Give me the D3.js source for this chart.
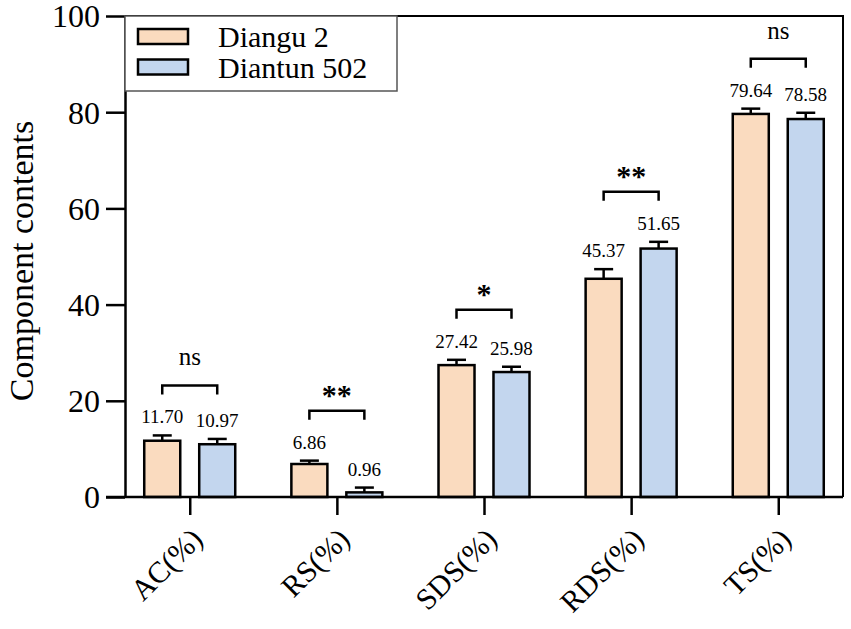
<!DOCTYPE html>
<html>
<head>
<meta charset="utf-8">
<script src="https://cdn.jsdelivr.net/npm/d3@7"></script>
<style>
  body { margin: 0; background: #fff; }
  svg text { font-family: "Liberation Serif", "DejaVu Serif", serif; fill: #000; }
</style>
</head>
<body>
<svg id="chart" width="851" height="629"></svg>
<script>
// categories and series
var categories = ["AC(%)", "RS(%)", "SDS(%)", "RDS(%)", "TS(%)"];
var seriesNames = ["Diangu 2", "Diantun 502"];
var diangu = [11.70, 6.86, 27.42, 45.37, 79.64];
var diantun = [10.97, 0.96, 25.98, 51.65, 78.58];
var dianguErr = [1.1, 0.7, 1.1, 2.0, 1.1];
var diantunErr = [1.1, 1.0, 1.1, 1.4, 1.3];
var significance = ["ns", "**", "*", "**", "ns"];
var yTicks = [0, 20, 40, 60, 80, 100];

var colors = ["#fadbbf", "#c3d6ee"];
var serif = "'Liberation Serif', 'DejaVu Serif', serif";

var svg = d3.select("#chart");
var plotLeft = 125, plotRight = 843, plotTop = 16, plotBottom = 497;

var x = d3.scalePoint().domain(categories).range([plotLeft, plotRight]).padding(0.44);
var xSub = d3.scaleBand().domain(seriesNames).range([-45.5, 45.5]).paddingInner(0.345);
var y = d3.scaleLinear().domain([0, 100]).range([plotBottom, plotTop]);

var rows = categories.map(function (c, i) {
    return {
        cat: c,
        sig: significance[i],
        vals: [
            { s: seriesNames[0], v: diangu[i], e: dianguErr[i], c: colors[0] },
            { s: seriesNames[1], v: diantun[i], e: diantunErr[i], c: colors[1] }
        ]
    };
});

// frame (top + right)
svg.append("path")
    .attr("d", "M" + plotLeft + "," + plotTop + "H" + plotRight + "V" + plotBottom)
    .attr("fill", "none").attr("stroke", "#000").attr("stroke-width", 2);

// bars
var groups = svg.selectAll(".grp").data(rows).enter().append("g")
    .attr("transform", function (d) { return "translate(" + x(d.cat) + ",0)"; });

var bw = xSub.bandwidth();
groups.selectAll("rect").data(function (d) { return d.vals; }).enter().append("rect")
    .attr("x", function (d) { return xSub(d.s); })
    .attr("y", function (d) { return y(d.v); })
    .attr("width", bw)
    .attr("height", function (d) { return y(0) - y(d.v); })
    .attr("fill", function (d) { return d.c; })
    .attr("stroke", "#000").attr("stroke-width", 2.5);

// error bars (upper only)
var eb = groups.selectAll(".eb").data(function (d) { return d.vals; }).enter().append("g");
eb.append("line")
    .attr("x1", function (d) { return xSub(d.s) + bw / 2; })
    .attr("x2", function (d) { return xSub(d.s) + bw / 2; })
    .attr("y1", function (d) { return y(d.v); })
    .attr("y2", function (d) { return y(d.v + d.e); })
    .attr("stroke", "#000").attr("stroke-width", 2.5);
eb.append("line")
    .attr("x1", function (d) { return xSub(d.s) + bw / 2 - 9.5; })
    .attr("x2", function (d) { return xSub(d.s) + bw / 2 + 9.5; })
    .attr("y1", function (d) { return y(d.v + d.e); })
    .attr("y2", function (d) { return y(d.v + d.e); })
    .attr("stroke", "#000").attr("stroke-width", 2.5);

// value labels
groups.selectAll(".val").data(function (d) { return d.vals; }).enter().append("text")
    .attr("x", function (d) { return xSub(d.s) + bw / 2; })
    .attr("y", function (d) { return y(d.v + d.e) - 12; })
    .attr("text-anchor", "middle")
    .attr("font-family", serif)
    .style("font-size", "19px")
    .text(function (d) { return d.v.toFixed(2); });

// significance brackets
groups.each(function (d) {
    var g = d3.select(this);
    var capTop = d3.min(d.vals, function (v) { return y(v.v + v.e); });
    var by = capTop - 50;
    var x1 = xSub(d.vals[0].s) + bw / 2, x2 = xSub(d.vals[1].s) + bw / 2;
    g.append("path")
        .attr("d", "M" + x1 + "," + (by + 9) + "V" + by + "H" + x2 + "V" + (by + 9))
        .attr("fill", "none").attr("stroke", "#000").attr("stroke-width", 2.5);
    var isNs = d.sig === "ns";
    g.append("text")
        .attr("x", (x1 + x2) / 2)
        .attr("y", isNs ? by - 20 : by - 6)
        .attr("text-anchor", "middle")
        .attr("font-family", serif)
        .style("font-size", isNs ? "25px" : "30px")
        .style("font-weight", isNs ? "normal" : "bold")
        .text(d.sig);
});

// y axis
var yAxis = svg.append("g")
    .attr("transform", "translate(" + plotLeft + ",0)")
    .attr("font-family", serif)
    .call(d3.axisLeft(y).tickValues(yTicks).tickSize(19).tickPadding(6).tickSizeOuter(0));
yAxis.attr("font-family", serif);
yAxis.select(".domain").attr("stroke-width", 2.5);
yAxis.selectAll(".tick line").attr("stroke-width", 2.5);
yAxis.selectAll(".tick text").style("font-size", "32px").attr("dy", "0.34em");

// x axis
var xAxis = svg.append("g")
    .attr("transform", "translate(0," + plotBottom + ")")
    .call(d3.axisBottom(x).tickSize(18).tickSizeOuter(0));
xAxis.attr("font-family", serif);
xAxis.select(".domain").attr("stroke-width", 2.5)
    .attr("d", "M" + (plotLeft - 19) + ",0H" + plotRight);
xAxis.selectAll(".tick line").attr("stroke-width", 2.5);
xAxis.selectAll(".tick text")
    .style("font-size", "30px")
    .attr("text-anchor", "end")
    .attr("dy", 0)
    .attr("transform", "translate(14,44) rotate(-45)")
    .attr("y", 0).attr("x", 0);

// y label
svg.append("text")
    .attr("transform", "translate(33,261) rotate(-90)")
    .attr("text-anchor", "middle")
    .attr("font-family", serif)
    .style("font-size", "34px")
    .text("Component contents");

// legend
var legend = svg.append("g");
legend.append("rect")
    .attr("x", plotLeft).attr("y", plotTop)
    .attr("width", 272).attr("height", 75)
    .attr("fill", "#fff").attr("stroke", "#555").attr("stroke-width", 1.5);
var li = legend.selectAll(".li").data(seriesNames).enter().append("g")
    .attr("transform", function (d, i) { return "translate(138," + (29 + i * 30.5) + ")"; });
li.append("rect")
    .attr("width", 50).attr("height", 15)
    .attr("fill", function (d, i) { return colors[i]; })
    .attr("stroke", "#000").attr("stroke-width", 2.5);
li.append("text")
    .attr("x", 80).attr("y", 18)
    .attr("font-family", serif)
    .style("font-size", "30px")
    .text(function (d) { return d; });
</script>
</body>
</html>
